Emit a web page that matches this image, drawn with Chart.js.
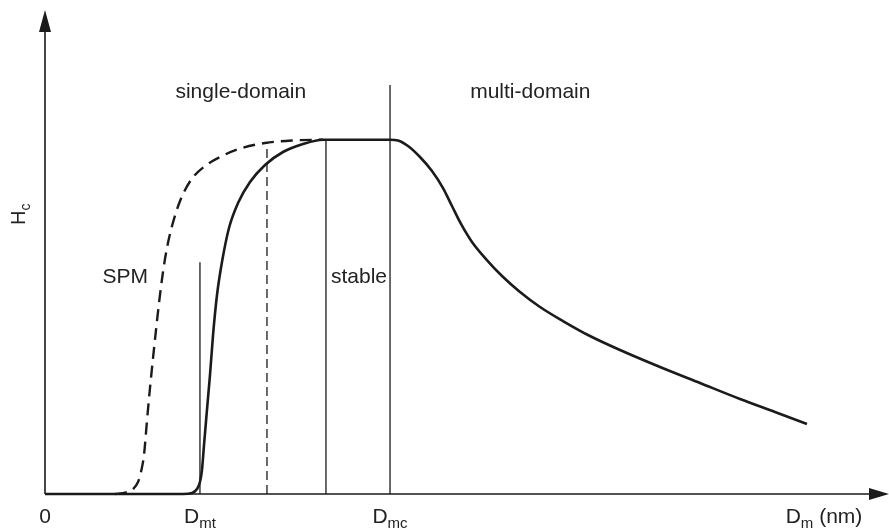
<!DOCTYPE html>
<html>
<head>
<meta charset="utf-8">
<script src="https://cdn.jsdelivr.net/npm/chart.js@4"></script>
<style>
  html, body { margin: 0; padding: 0; background: #fff; }
  #wrap { width: 889px; height: 528px; position: relative; }
</style>
</head>
<body>
<div id="wrap"><canvas id="coercivity-chart"></canvas></div>
<script>
// solid curve: Hc vs particle size (arbitrary units)
const sizeSolid = [0, 16.35, 17.42, 18.01, 18.36, 18.6, 18.84, 19.19, 19.55, 19.91, 20.38, 20.97, 21.8, 22.87, 24.29, 26.07, 28.2, 30.57, 32.94, 40.88, 41.82, 43.01, 44.43, 45.85, 47.16, 48.22, 49.29, 50.59, 52.25, 54.15, 56.28, 58.65, 61.37, 64.57, 68.13, 72.87, 77.61, 82.35, 86.49, 90.28];
const hcSolid = [0, 0, 0.21, 1.03, 2.48, 4.96, 10.12, 17.36, 24.59, 32.85, 41.12, 47.93, 54.96, 60.12, 64.46, 67.98, 70.66, 72.31, 73.2, 73.2, 73.04, 71.9, 69.63, 66.74, 63.22, 59.5, 55.79, 52.07, 48.55, 45.04, 41.74, 38.64, 35.74, 32.64, 29.75, 26.24, 22.93, 19.63, 16.94, 14.46];

// dashed curve (SPM branch)
const sizeDashed = [8.29, 9.6, 10.43, 11.02, 11.37, 11.73, 12.09, 12.44, 12.8, 13.15, 13.51, 13.98, 14.45, 15.05, 16.0, 17.3, 18.96, 20.97, 23.34, 26.07, 29.27, 32.94];
const hcDashed = [0, 0.31, 1.03, 2.48, 4.55, 8.06, 15.29, 21.9, 28.1, 33.88, 39.46, 45.87, 50.83, 55.37, 60.54, 64.88, 67.77, 69.83, 71.49, 72.52, 73.04, 73.2];

// vertical boundaries: D_mt, dashed, stable, D_mc
const boundaryX = [18.36, 26.3, 33.29, 40.88];
const boundaryTop = [47.9, 72.7, 73.1, 84.5];
const boundaryDashed = [false, true, false, false];

// x-axis labels
const tickValues = [0, 18.36, 40.88, 92.3];
const tickMain = ['0', 'D', 'D', 'D'];
const tickSub = ['', 'mt', 'mc', 'm'];
const tickTail = ['', '', '', ' (nm)'];

// region labels
const regionText = ['single-domain', 'multi-domain', 'SPM', 'stable'];
const regionX = [23.2, 57.5, 9.5, 37.2];
const regionY = [81.8, 81.8, 43.6, 43.6];

const INK = '#1b1b1b';
const FONT = '"Liberation Sans", Arial, sans-serif';

const datasets = [{
  data: sizeSolid.map((x, i) => ({ x: x, y: hcSolid[i] })),
  borderColor: INK,
  borderWidth: 2.6,
  cubicInterpolationMode: 'monotone'
}, {
  data: sizeDashed.map((x, i) => ({ x: x, y: hcDashed[i] })),
  borderColor: INK,
  borderWidth: 2.4,
  borderDash: [12, 7],
  cubicInterpolationMode: 'monotone'
}];
boundaryX.forEach((x, i) => {
  datasets.push({
    data: [{ x: x, y: 0 }, { x: x, y: boundaryTop[i] }],
    borderColor: INK,
    borderWidth: 1.3,
    borderDash: boundaryDashed[i] ? [9, 5] : []
  });
});

function drawSub(ctx, main, sub, tail, cx, y, size) {
  const subSize = Math.round(size * 0.7);
  ctx.font = size + 'px ' + FONT;
  const wMain = ctx.measureText(main).width;
  const wTail = ctx.measureText(tail).width;
  ctx.font = subSize + 'px ' + FONT;
  const wSub = ctx.measureText(sub).width;
  let x = cx - (wMain + wSub + wTail) / 2;
  ctx.textAlign = 'left';
  ctx.font = size + 'px ' + FONT;
  ctx.fillText(main, x, y);
  x += wMain;
  ctx.font = subSize + 'px ' + FONT;
  ctx.fillText(sub, x, y + 5);
  x += wSub;
  ctx.font = size + 'px ' + FONT;
  ctx.fillText(tail, x, y);
}

const annotations = {
  id: 'annotations',
  afterDatasetsDraw(chart) {
    const ctx = chart.ctx;
    const xs = chart.scales.x, ys = chart.scales.y;
    const x0 = xs.getPixelForValue(0), y0 = ys.getPixelForValue(0);
    const xEnd = xs.getPixelForValue(100), yEnd = ys.getPixelForValue(100);
    ctx.save();
    ctx.strokeStyle = INK;
    ctx.fillStyle = INK;
    ctx.lineWidth = 1.6;
    // axes
    ctx.beginPath();
    ctx.moveTo(x0, y0);
    ctx.lineTo(xEnd - 10, y0);
    ctx.moveTo(x0, y0);
    ctx.lineTo(x0, yEnd + 10);
    ctx.stroke();
    // arrow heads
    ctx.beginPath();
    ctx.moveTo(xEnd, y0);
    ctx.lineTo(xEnd - 20, y0 - 6);
    ctx.lineTo(xEnd - 20, y0 + 6);
    ctx.closePath();
    ctx.fill();
    ctx.beginPath();
    ctx.moveTo(x0, yEnd);
    ctx.lineTo(x0 - 6, yEnd + 22);
    ctx.lineTo(x0 + 6, yEnd + 22);
    ctx.closePath();
    ctx.fill();

    // tick labels
    ctx.fillStyle = '#222';
    ctx.textBaseline = 'alphabetic';
    tickValues.forEach((v, i) => {
      drawSub(ctx, tickMain[i], tickSub[i], tickTail[i], xs.getPixelForValue(v), y0 + 29, 21);
    });

    // region labels
    ctx.font = '21px ' + FONT;
    ctx.textAlign = 'center';
    regionText.forEach((t, i) => {
      ctx.fillText(t, xs.getPixelForValue(regionX[i]), ys.getPixelForValue(regionY[i]));
    });

    // y axis title H_c
    ctx.translate(x0 - 20, ys.getPixelForValue(57.8));
    ctx.rotate(-Math.PI / 2);
    drawSub(ctx, 'H', 'c', '', 0, 0, 20);
    ctx.restore();
  }
};

new Chart(document.getElementById('coercivity-chart'), {
  type: 'scatter',
  data: { datasets: datasets },
  options: {
    responsive: true,
    maintainAspectRatio: false,
    animation: false,
    layout: { padding: { left: 45, right: 0, top: 10, bottom: 34 } },
    elements: {
      point: { radius: 0, hoverRadius: 0 },
      line: { fill: false }
    },
    datasets: { scatter: { showLine: true, clip: false } },
    scales: {
      x: { type: 'linear', min: 0, max: 100, display: false },
      y: { type: 'linear', min: 0, max: 100, display: false }
    },
    plugins: {
      legend: { display: false },
      tooltip: { enabled: false },
      title: { display: false }
    }
  },
  plugins: [annotations]
});
</script>
</body>
</html>
